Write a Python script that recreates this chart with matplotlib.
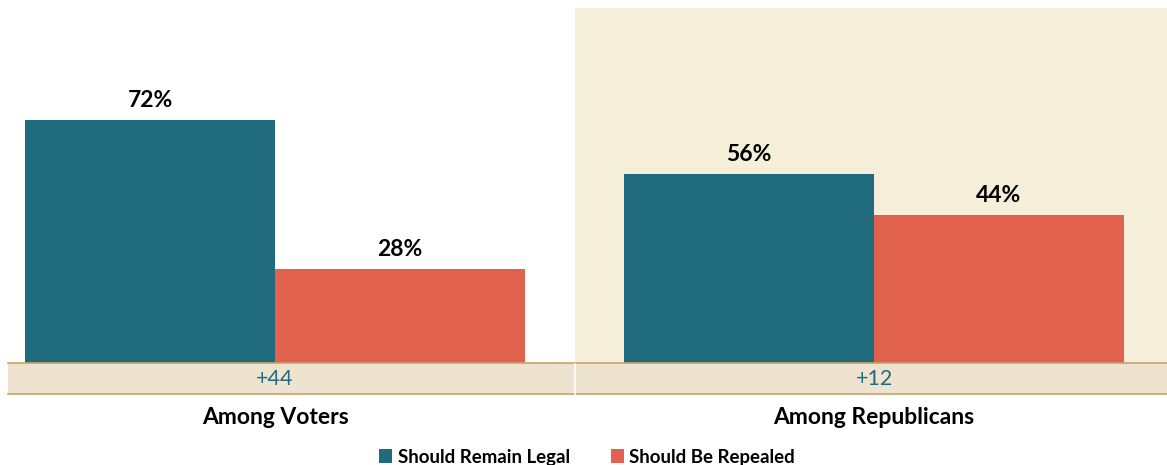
import numpy as np
import matplotlib.pyplot as plt
from matplotlib.patches import Rectangle

plt.rcParams['font.family'] = ['Lato', 'DejaVu Sans']

groups = ["Among Voters", "Among Republicans"]
legal = [72, 56]
repealed = [28, 44]
margins = ["+44", "+12"]
series_names = ["Should Remain Legal", "Should Be Repealed"]

teal = "#206B7E"
red = "#E0614E"
band_col = "#EDE3CF"
shade_col = "#F5EFDA"
line_col = "#C8A46A"

fig = plt.figure(figsize=(11.67, 4.65), dpi=100)
ax = fig.add_axes([0, 70 / 465, 1, 395 / 465])

x = np.arange(len(groups))
w = 0.417
ax.set_xlim(-0.459, 1.489)
ax.set_ylim(-9.48, 107.56)

# shaded background for republicans group
ax.add_patch(Rectangle((0.5, 0), 1.0, 105.2, color=shade_col, zorder=0, lw=0))
# margin band below the baseline
ax.add_patch(Rectangle((-0.446, -9.48), 1.95, 9.48, color=band_col, zorder=0, lw=0))
ax.plot([-0.446, 1.489], [0, 0], color=line_col, lw=1.2, zorder=3)
ax.plot([-0.446, 1.489], [-9.3, -9.3], color=line_col, lw=1.2, zorder=3)
ax.plot([0.5, 0.5], [-9.2, -0.3], color="white", lw=1.2, zorder=3)

b1 = ax.bar(x - w / 2, legal, w, color=teal, label=series_names[0], zorder=2)
b2 = ax.bar(x + w / 2, repealed, w, color=red, label=series_names[1], zorder=2)

for bars in (b1, b2):
    for r in bars:
        ax.text(r.get_x() + r.get_width() / 2, r.get_height() + 2.6, f"{r.get_height():.0f}%",
                ha="center", va="bottom", fontsize=16.5, fontweight="bold", color="black")

for i, m in enumerate(margins):
    ax.text(x[i], -4.6, m, ha="center", va="center", fontsize=15.5, color=teal)

ax.axis("off")

for i, g in enumerate(groups):
    fig.text((275 + 599 * i) / 1167, 1 - 417 / 465, g, ha="center", va="center",
             fontsize=16.5, fontweight="bold")

fig.legend(handles=[b1, b2], loc="center", bbox_to_anchor=(587 / 1167, 1 - 457 / 465),
           ncol=2, frameon=False, handlelength=0.7, handleheight=0.7, handletextpad=0.3,
           columnspacing=2.2, prop={"weight": "bold", "size": 13.4})

fig.savefig("out.png", dpi=100)
